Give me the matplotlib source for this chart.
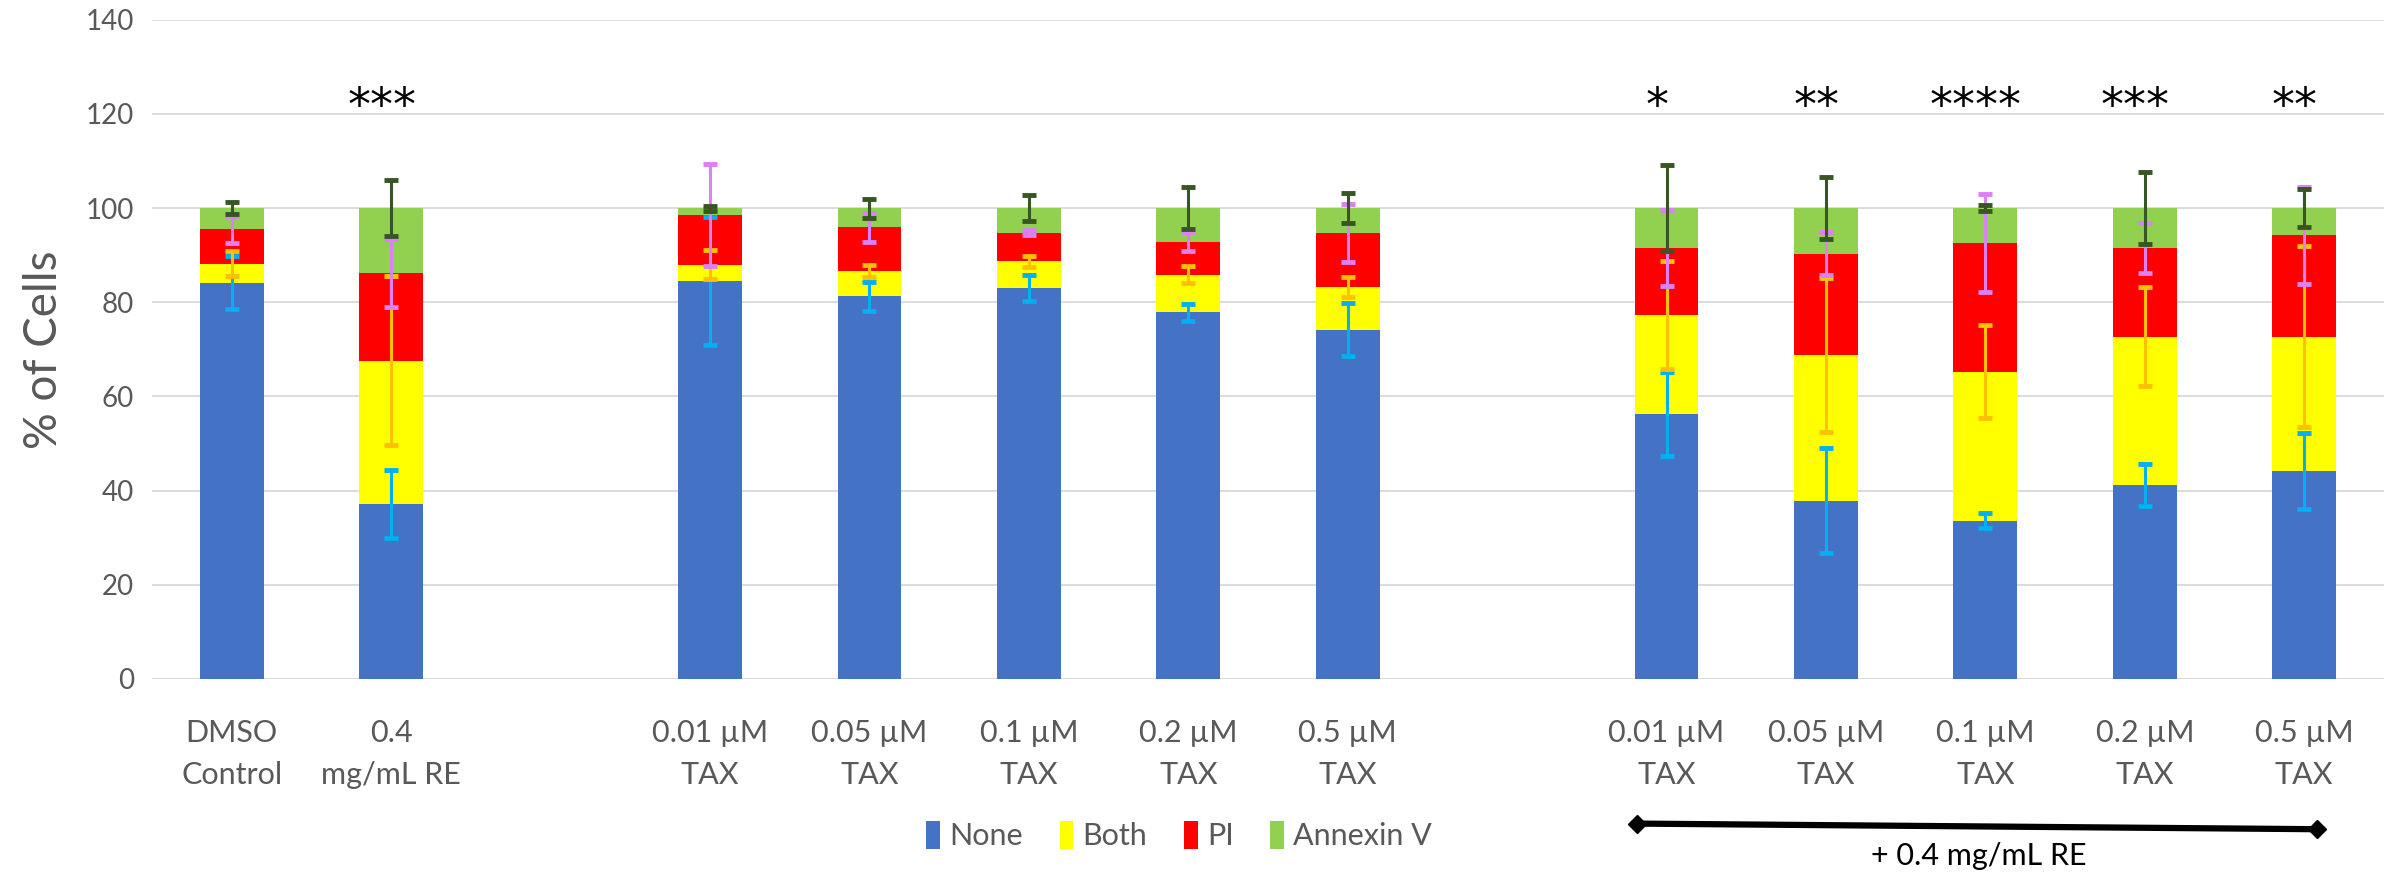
import matplotlib.pyplot as plt
from matplotlib.lines import Line2D
import numpy as np

plt.rcParams['font.family'] = ['Lato', 'DejaVu Sans']

# bar groups (a blank slot sits between groups)
groups = [
    ["DMSO\nControl", "0.4\nmg/mL RE"],
    ["0.01 µM\nTAX", "0.05 µM\nTAX", "0.1 µM\nTAX", "0.2 µM\nTAX", "0.5 µM\nTAX"],
    ["0.01 µM\nTAX", "0.05 µM\nTAX", "0.1 µM\nTAX", "0.2 µM\nTAX", "0.5 µM\nTAX"],
]
series = ["None", "Both", "PI", "Annexin V"]

none_vals = [84.2, 37.2, 84.5, 81.3, 83.0, 77.9, 74.2, 56.3, 37.9, 33.6, 41.2, 44.2]
both_vals = [4.0, 30.4, 3.5, 5.4, 5.7, 8.0, 9.1, 21.0, 30.9, 31.7, 31.5, 28.5]
pi_vals = [7.3, 18.7, 10.5, 9.2, 6.1, 7.0, 11.4, 14.3, 21.5, 27.3, 18.9, 21.5]
annexin_vals = [4.5, 13.7, 1.5, 4.1, 5.2, 7.1, 5.3, 8.4, 9.7, 7.4, 8.4, 5.8]

none_err = [5.6, 7.2, 13.6, 3.1, 2.7, 1.8, 5.6, 9.0, 11.1, 1.6, 4.5, 8.1]
both_err = [2.7, 18.0, 3.1, 1.3, 1.2, 1.8, 2.1, 11.4, 16.3, 9.8, 10.5, 19.2]
pi_err = [2.8, 7.2, 10.8, 3.0, 0.6, 2.0, 6.2, 8.1, 4.6, 10.5, 5.3, 10.3]
annexin_err = [1.3, 5.9, 0.5, 2.0, 2.7, 4.4, 3.2, 9.2, 6.6, 0.7, 7.6, 4.0]

stars = ["", "***", "", "", "", "", "", "*", "**", "****", "***", "**"]
star_y = 121.3

bar_colors = ['#4472C4', '#FFFF00', '#FF0000', '#92D050']
err_colors = ['#00B0F0', '#FFC000', '#DD7FF5', '#375623']

# slot positions
positions = []
labels = []
slot = 0
for g in groups:
    for lab in g:
        positions.append(slot)
        labels.append(lab)
        slot += 1
    slot += 1
n_slots = slot - 1
positions = np.array(positions)

fig = plt.figure(figsize=(23.87, 8.77), dpi=100)
ax = fig.add_axes([0.0637, 0.2258, 0.935, 0.7516])

vals = [none_vals, both_vals, pi_vals, annexin_vals]
errs = [none_err, both_err, pi_err, annexin_err]
bottom = np.zeros(len(positions))
tops = []
for name, v, c in zip(series, vals, bar_colors):
    v = np.array(v)
    ax.bar(positions, v, width=0.4, bottom=bottom, color=c, label=name, zorder=2)
    bottom = bottom + v
    tops.append(bottom.copy())

for t, e, c in zip(tops, errs, err_colors):
    ax.errorbar(positions, t, yerr=e, fmt='none', ecolor=c, elinewidth=2.2,
                capsize=5, capthick=3.5, zorder=3)

# stars were placed by hand, slightly left of the bar centres
for x, s in zip(positions, stars):
    if s:
        ax.text(x - 0.06, star_y, s, ha='center', va='center', fontsize=33,
                color='black', family='DejaVu Sans')

ax.set_xlim(-0.5, n_slots - 0.5)
ax.set_ylim(0, 140)
ax.set_yticks(np.arange(0, 141, 20))
ax.set_xticks(positions)
ax.set_xticklabels(labels, linespacing=1.6)
ax.tick_params(axis='x', length=0, pad=29, labelsize=22, labelcolor='#595959')
ax.tick_params(axis='y', length=0, pad=13, labelsize=20, labelcolor='#595959')
for sp in ax.spines.values():
    sp.set_visible(False)
ax.grid(axis='y', color='#D9D9D9', linewidth=1.3, zorder=0)
ax.set_axisbelow(True)
ax.set_ylabel("% of Cells", fontsize=33, color='#595959')
ax.yaxis.set_label_coords(-0.039, 0.5)

fig.legend(loc='center', bbox_to_anchor=(0.494, 0.047), ncol=4, frameon=False,
           fontsize=22, handlelength=0.45, handleheight=1.0, handletextpad=0.3,
           columnspacing=1.2, labelcolor='#595959')

arrow = Line2D([0.6856, 0.9707], [0.0609, 0.0545], transform=fig.transFigure,
               color='black', linewidth=4.5, marker='D', markersize=9)
fig.add_artist(arrow)
fig.text(0.829, 0.024, "+ 0.4 mg/mL RE", ha='center', va='center', fontsize=22,
         color='black')

fig.savefig("out.png", dpi=100)
